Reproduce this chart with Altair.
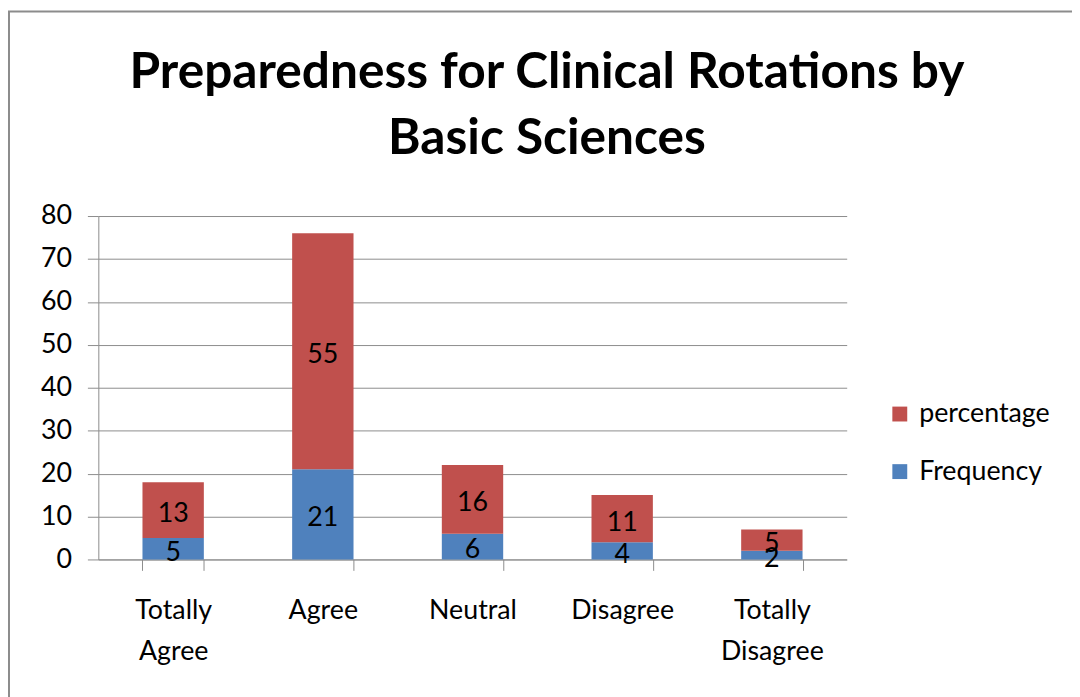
import altair as alt
import pandas as pd

categories = ["Totally Agree", "Agree", "Neutral", "Disagree", "Totally Disagree"]
frequency = [5, 21, 6, 4, 2]
percentage = [13, 55, 16, 11, 5]
series_names = ["percentage", "Frequency"]
series_colors = ["#C0504D", "#4F81BD"]

rows = []
for c, f, p in zip(categories, frequency, percentage):
    rows.append({"category": c, "series": "Frequency", "value": f, "ord": 0})
    rows.append({"category": c, "series": "percentage", "value": p, "ord": 1})
df = pd.DataFrame(rows)

FONT = "Lato"
FS = 27

base = alt.Chart(df).transform_stack(
    stack="value", groupby=["category"], as_=["y0", "y1"],
    sort=[alt.SortField("ord", order="ascending")]
).transform_calculate(mid="(datum.y0 + datum.y1) / 2")

x_enc = alt.X(
    "category:N", sort=categories, title=None,
    scale=alt.Scale(paddingInner=0.59, paddingOuter=0.295),
    axis=alt.Axis(
        labelAngle=0, labelFont=FONT, labelFontSize=FS, labelColor="#000000",
        labelExpr="split(datum.label, ' ')", labelLineHeight=41,
        labelPadding=28, tickBand="extent", tickSize=11, tickColor="#8c8c8c",
        domainColor="#8c8c8c", grid=False,
    ),
)

bars = base.mark_bar(stroke=None).encode(
    x=x_enc,
    y=alt.Y("y1:Q", title=None,
            scale=alt.Scale(domain=[0, 80], nice=False),
            axis=alt.Axis(values=list(range(0, 81, 10)), labelFont=FONT,
                          labelFontSize=FS, labelColor="#000000", labelPadding=16,
                          tickSize=11, tickColor="#8c8c8c", domainColor="#8c8c8c",
                          gridColor="#8c8c8c", grid=True)),
    y2="y0:Q",
    color=alt.Color("series:N",
                    scale=alt.Scale(domain=series_names, range=series_colors),
                    legend=alt.Legend(title=None, orient="none", legendX=794, legendY=186,
                                      symbolType="square", symbolSize=225,
                                      symbolStrokeWidth=0, labelFont=FONT,
                                      labelFontSize=FS, labelColor="#000000",
                                      rowPadding=30, labelOffset=6)),
    order=alt.Order("ord:Q"),
)

labels = base.mark_text(font=FONT, fontSize=FS, color="#000000", baseline="middle", dy=4).encode(
    x=alt.X("category:N", sort=categories),
    y=alt.Y("mid:Q"),
    text=alt.Text("value:Q"),
)

border = alt.Chart(alt.Data(values=[{}])).mark_rect(
    fill=None, stroke="#8c8c8c", strokeWidth=2
).encode(
    x=alt.value(-90), x2=alt.value(1200), y=alt.value(-206), y2=alt.value(900)
)

chart = alt.layer(border, bars, labels).properties(
    width=754, height=346,
    autosize=alt.AutoSizeParams(type="none"),
    padding={"left": 91, "top": 207, "right": 227, "bottom": 136},
    title=alt.TitleParams(
        text=["Preparedness for Clinical Rotations by", "Basic Sciences"],
        font=FONT, fontSize=50, fontWeight="bold", color="#000000",
        lineHeight=67, anchor="middle", dx=75, offset=-155,
    ),
).configure_view(stroke=None)

chart.save("out.html", embed_options={"renderer": "svg", "actions": False})
